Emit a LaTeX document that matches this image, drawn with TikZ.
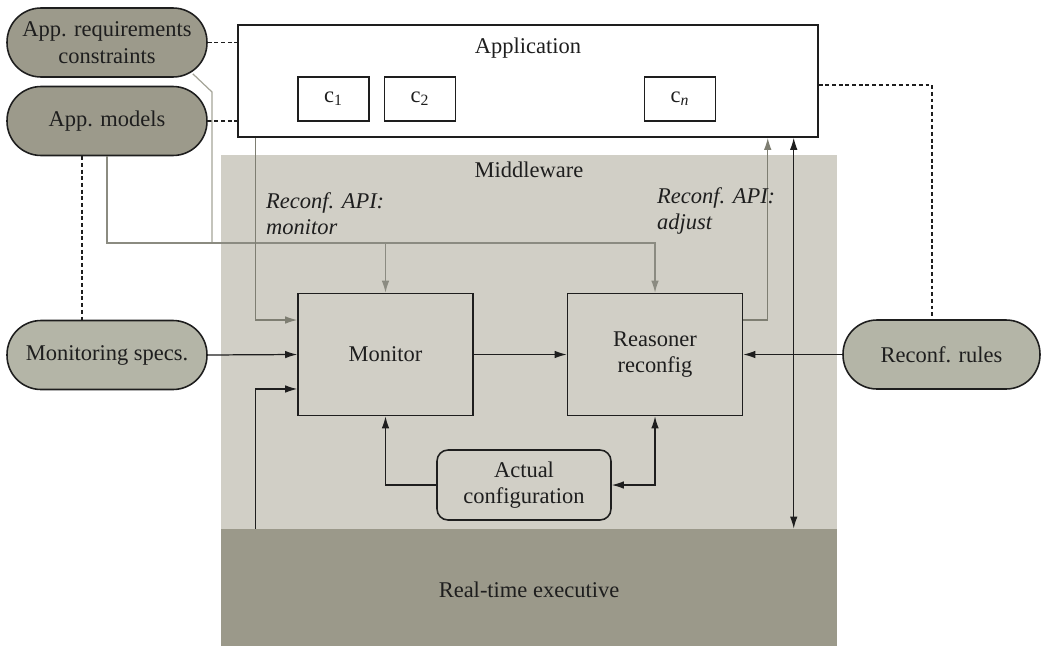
\documentclass[tikz,border=0pt]{standalone}
\usepackage{fontspec}
\setmainfont{Liberation Serif}
\usetikzlibrary{arrows.meta}

\definecolor{pilldark}{HTML}{9C9A8B}
\definecolor{pilllight}{HTML}{B4B5A7}
\definecolor{mwgray}{HTML}{D1CFC6}
\definecolor{execgray}{HTML}{9B998A}
\definecolor{busgray}{HTML}{A4A498}
\definecolor{apigray}{HTML}{7E7E72}
\definecolor{ink}{HTML}{1E1E1E}

\tikzset{
  region/.style={draw=none, inner sep=0pt, minimum width=12.32cm},
  box/.style={draw=ink, line width=0.9pt, minimum width=3.5cm, minimum height=2.44cm, align=center},
  comp/.style={draw=ink, line width=0.8pt, fill=white, minimum width=1.42cm, minimum height=0.88cm},
  pill/.style={draw=ink, line width=0.9pt, rounded corners=0.68cm, minimum width=4cm, minimum height=1.38cm, align=center, inner sep=1pt},
  conn/.style={draw=ink, line width=0.7pt},
  arrow/.style={conn, -{Latex[length=2.4mm,width=1.5mm]}},
  biarrow/.style={conn, {Latex[length=2.4mm,width=1.5mm]}-{Latex[length=2.4mm,width=1.5mm]}},
  dashline/.style={draw=ink, line width=0.7pt, dash pattern=on 2.2pt off 1.6pt},
  busline/.style={draw=busgray, line width=0.7pt},
  busarrow/.style={busline, -{Latex[length=2.4mm,width=1.5mm]}, color=busgray!85!black},
  apiarrow/.style={draw=apigray, line width=0.7pt, -{Latex[length=2.4mm,width=1.5mm]}},
  apilabel/.style={anchor=west, align=left, font=\fontsize{12.8pt}{15pt}\selectfont\itshape}
}

\begin{document}
\begin{tikzpicture}[x=0.02cm, y=-0.02cm, font=\fontsize{12.8pt}{15pt}\selectfont, color=ink]
    \useasboundingbox (0,0) rectangle (1042,646);
    % layers
    \node[region, fill=mwgray, minimum height=7.48cm] (mw) at (529,342) {};
    \node[region, fill=execgray, minimum height=2.34cm] (exec) at (529,587.5) {};
    \node (mwlabel) at (529,170) {Middleware};
    \node (execlabel) at (529,590) {Real-time executive};
    % application with components
    \node[draw=ink, line width=0.9pt, fill=white, minimum width=11.6cm, minimum height=2.24cm] (app) at (528,81) {};
    \node (applabel) at (528,48) {Application};
    \node[comp] (c1) at (333.5,99) {c\textsubscript{1}};
    \node[comp] (c2) at (420,99) {c\textsubscript{2}};
    \node[comp] (cn) at (680,99) {c\textsubscript{\textit{n}}};
    % middleware blocks
    \node[box] (monitor) at (385.5,354.5) {Monitor};
    \node[box] (reasoner) at (655,354.5) {Reasoner\\reconfig};
    \node[draw=ink, line width=0.9pt, rounded corners=0.22cm, minimum width=3.48cm, minimum height=1.4cm, align=center] (actual) at (524,485) {Actual\\configuration};
    % inputs
    \node[pill, fill=pilldark] (appreq) at (107,42.5) {App. requirements\\constraints};
    \node[pill, fill=pilldark] (appmod) at (107,121) {App. models};
    \node[pill, fill=pilllight] (monspec) at (107,355) {Monitoring specs.};
    \node[pill, fill=pilllight, minimum width=3.94cm] (rules) at (941.5,354.5) {Reconf. rules};
    % dashed links
    \draw[dashline] (appreq.east) -- (appreq.east -| app.west);
    \draw[dashline] (appmod.east) -- (appmod.east -| app.west);
    \draw[dashline] ([yshift=-0.08cm]app.east) -| ([xshift=-0.19cm]rules.north);
    \draw[dashline] ([xshift=-0.5cm]appmod.south) -- ([xshift=-0.5cm]monspec.north);
    % model bus
    \coordinate (bus) at (0,243);
    \coordinate (bend) at (212,92);
    \draw[busline] ([xshift=-0.3cm,yshift=0.08cm]appreq.south east) -- (bend) -- (bend |- bus);
    \draw[busarrow] (appmod.south) |- (bus -| reasoner.north) -- (reasoner.north);
    \draw[busarrow] (bus -| monitor.north) -- (monitor.north);
    % reconfiguration API
    \draw[apiarrow] ([xshift=0.36cm]app.south west) |- ([yshift=0.69cm]monitor.west);
    \draw[apiarrow] ([yshift=0.69cm]reasoner.east) -| ([xshift=-1.02cm]app.south east);
    \node[apilabel] (apimon) at (260,214) {Reconf. API:\\monitor};
    \node[apilabel] (apiadj) at (651,211) {Reconf. API:\\adjust};
    % black flows
    \draw[biarrow] ([xshift=-0.5cm]app.south east) -- ([xshift=-0.5cm]app.south east |- exec.north);
    \draw[arrow] (monspec.east) -- (monitor.west);
    \draw[arrow] (monitor.east) -- (reasoner.west);
    \draw[arrow] (rules.west) -- (reasoner.east);
    \draw[arrow] ([xshift=0.7cm]exec.north west) |- ([yshift=-0.69cm]monitor.west);
    \draw[arrow] (actual.west) -| (monitor.south);
    \draw[biarrow] (reasoner.south) |- (actual.east);
\end{tikzpicture}
\end{document}
